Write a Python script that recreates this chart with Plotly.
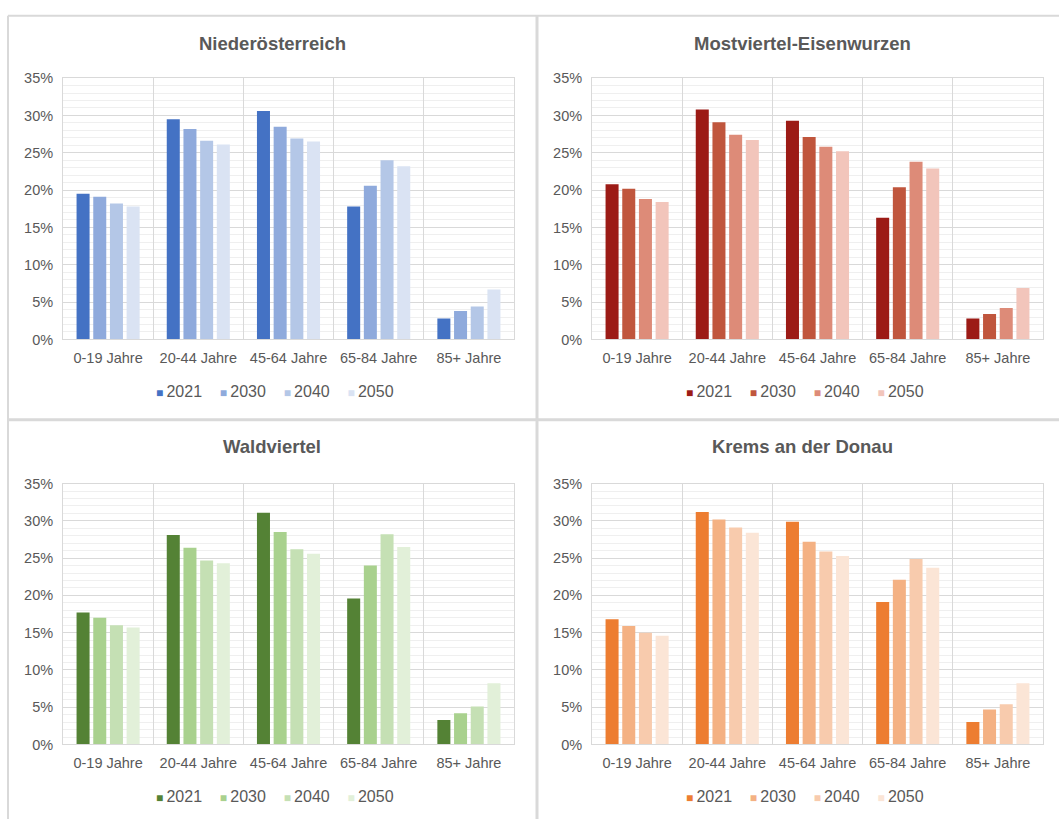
import plotly.graph_objects as go

# Age groups and projection years
categories = ["0-19 Jahre", "20-44 Jahre", "45-64 Jahre", "65-84 Jahre", "85+ Jahre"]
years = ["2021", "2030", "2040", "2050"]

# Share of population per age group (%)
noe_2021 = [19.5, 29.5, 30.6, 17.8, 2.8]
noe_2030 = [19.1, 28.2, 28.5, 20.6, 3.8]
noe_2040 = [18.2, 26.6, 26.9, 24.0, 4.4]
noe_2050 = [17.8, 26.1, 26.5, 23.2, 6.7]

most_2021 = [20.8, 30.8, 29.3, 16.3, 2.8]
most_2030 = [20.2, 29.1, 27.1, 20.4, 3.4]
most_2040 = [18.8, 27.4, 25.8, 23.8, 4.2]
most_2050 = [18.4, 26.7, 25.2, 22.9, 6.9]

wald_2021 = [17.7, 28.1, 31.1, 19.6, 3.3]
wald_2030 = [17.0, 26.4, 28.5, 24.0, 4.2]
wald_2040 = [16.0, 24.7, 26.2, 28.2, 5.1]
wald_2050 = [15.7, 24.3, 25.6, 26.5, 8.2]

krems_2021 = [16.8, 31.2, 29.9, 19.1, 3.0]
krems_2030 = [15.9, 30.2, 27.2, 22.1, 4.7]
krems_2040 = [15.0, 29.1, 25.9, 24.9, 5.4]
krems_2050 = [14.6, 28.4, 25.3, 23.7, 8.2]

blues = ["#4472C4", "#8FAADC", "#B4C7E7", "#DAE3F3"]
reds = ["#9C1B16", "#C0563D", "#DD8B78", "#F2C5BB"]
greens = ["#548235", "#A9D18E", "#C5E0B4", "#E2F0D9"]
oranges = ["#ED7D31", "#F4B183", "#F8CBAD", "#FBE5D6"]

W, H = 1059, 827
TEXT = "#595959"
FONT = "Liberation Sans, Arial, sans-serif"


def px_x(v):
    return v / W


def px_y(v):
    return 1 - v / H


left_dom = [px_x(63), px_x(514)]
right_dom = [px_x(592), px_x(1043)]
top_dom = [px_y(338), px_y(71.5)]
bot_dom = [px_y(751), px_y(485)]

panels = [
    ("Niederösterreich", [noe_2021, noe_2030, noe_2040, noe_2050], blues,
     left_dom, top_dom, 272, 36, 275, 391),
    ("Mostviertel-Eisenwurzen", [most_2021, most_2030, most_2040, most_2050], reds,
     right_dom, top_dom, 802, 36, 805, 391),
    ("Waldviertel", [wald_2021, wald_2030, wald_2040, wald_2050], greens,
     left_dom, bot_dom, 272, 447, 275, 804),
    ("Krems an der Donau", [krems_2021, krems_2030, krems_2040, krems_2050], oranges,
     right_dom, bot_dom, 802, 447, 805, 804),
]

fig = go.Figure()
annotations = []
layout = {}
NBSP = "\u00a0"
THIN = "\u2009"

for i, (title, series, colors, xdom, ydom, tx, ty, lx, ly) in enumerate(panels, start=1):
    sfx = "" if i == 1 else str(i)
    for year, vals, col in zip(years, series, colors):
        fig.add_trace(go.Bar(
            x=categories, y=vals, name=year,
            marker=dict(color=col, line=dict(width=0)),
            xaxis="x" + sfx, yaxis="y" + sfx, showlegend=False,
            hovertemplate="%{x}: %{y:.1f}%<extra>" + title + " " + year + "</extra>",
        ))

    layout["xaxis" + sfx] = dict(
        domain=xdom, anchor="y" + sfx, type="category",
        tickson="boundaries", ticks="", showgrid=True, gridcolor="#d9d9d9",
        gridwidth=1, showline=True, linecolor="#d9d9d9", linewidth=1, mirror=True,
        tickfont=dict(family=FONT, size=14.5, color=TEXT), zeroline=False,
        ticklabelstandoff=5, fixedrange=True,
    )
    layout["yaxis" + sfx] = dict(
        domain=ydom, anchor="x" + sfx, range=[0, 35], dtick=5, tick0=0,
        ticksuffix="%", showgrid=True, gridcolor="#d9d9d9", gridwidth=1,
        minor=dict(dtick=1, showgrid=True, gridcolor="#efefef", gridwidth=1),
        showline=True, linecolor="#d9d9d9", linewidth=1, mirror=True,
        zeroline=False, ticks="", ticklabelstandoff=6,
        tickfont=dict(family=FONT, size=14.5, color=TEXT), fixedrange=True,
    )
    # chart title
    annotations.append(dict(
        text=f"<b>{title}</b>", x=px_x(tx), y=px_y(ty), xref="paper", yref="paper",
        xanchor="center", yanchor="middle", showarrow=False,
        font=dict(family=FONT, size=18.5, color=TEXT),
    ))
    # series key: coloured square followed by the year
    key = (NBSP * 4).join(
        f'<span style="color:{col};font-size:12px">■</span>{THIN}{year}'
        for year, col in zip(years, colors)
    )
    annotations.append(dict(
        text=key, x=px_x(lx), y=px_y(ly), xref="paper", yref="paper",
        xanchor="center", yanchor="middle", showarrow=False,
        font=dict(family=FONT, size=16, color=TEXT),
    ))

border = "#d9d9d9"
shapes = [
    dict(type="line", xref="paper", yref="paper", x0=px_x(8), x1=px_x(8),
         y0=px_y(8), y1=0, line=dict(color=border, width=2)),
    dict(type="line", xref="paper", yref="paper", x0=px_x(8), x1=1,
         y0=px_y(8), y1=px_y(8), line=dict(color=border, width=2)),
    dict(type="line", xref="paper", yref="paper", x0=px_x(537), x1=px_x(537),
         y0=px_y(8), y1=0, line=dict(color=border, width=3)),
    dict(type="line", xref="paper", yref="paper", x0=px_x(8), x1=1,
         y0=px_y(420), y1=px_y(420), line=dict(color=border, width=3)),
]

fig.update_layout(
    width=W, height=H, margin=dict(l=0, r=0, t=0, b=0),
    paper_bgcolor="white", plot_bgcolor="white",
    barmode="group", bargap=0.26, bargroupgap=0.22,
    annotations=annotations, shapes=shapes, showlegend=False,
    font=dict(family=FONT, color=TEXT),
    **layout,
)

fig.write_html("out.html")
